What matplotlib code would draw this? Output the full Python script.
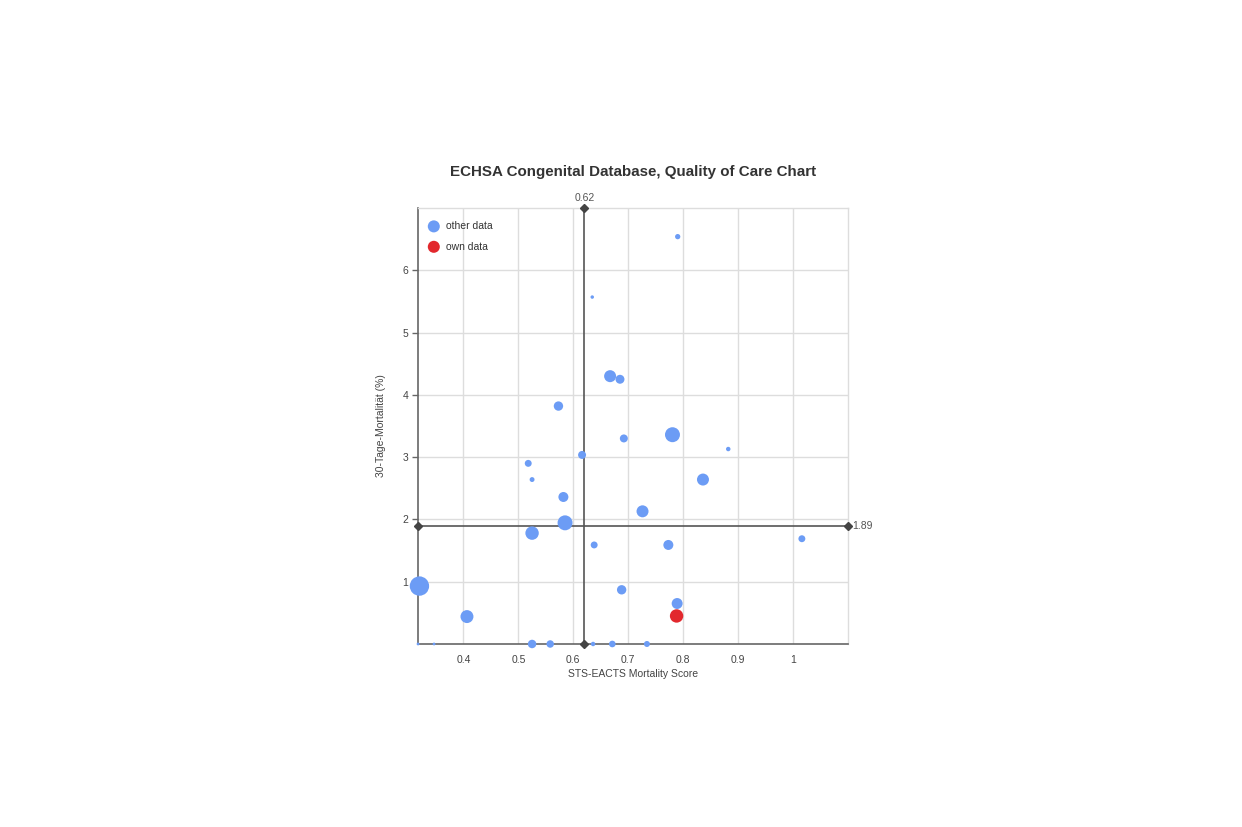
import numpy as np
import matplotlib.pyplot as plt

plt.rcParams['font.family'] = ['Liberation Sans', 'DejaVu Sans']

# other clinics: mortality score, 30-day mortality, number of cases
other_score = [0.790, 0.6345, 0.667, 0.685, 0.573, 0.692, 0.7805, 0.882, 0.616, 0.518,
               0.525, 0.836, 0.582, 0.726, 0.585, 0.525, 0.638, 0.773, 1.016, 0.320,
               0.688, 0.789, 0.4065, 0.3175, 0.3466, 0.525, 0.558, 0.636, 0.671, 0.734]
other_mort = [6.54, 5.57, 4.30, 4.25, 3.82, 3.30, 3.36, 3.13, 3.035, 2.90,
              2.64, 2.64, 2.36, 2.13, 1.945, 1.78, 1.59, 1.59, 1.69, 0.93,
              0.87, 0.65, 0.44, 0, 0, 0, 0, 0, 0, 0]
other_cases = [7, 3, 36, 20, 22, 16, 56, 5, 16, 12,
               6, 36, 25, 36, 56, 45, 12, 25, 12, 94,
               22, 30, 42, 2, 2, 18, 14, 5, 11, 9]

# own clinic
own_score = [0.788]
own_mort = [0.45]
own_cases = [45]

mean_score = 0.62
mean_mort = 1.89

x_ticks = [0.4, 0.5, 0.6, 0.7, 0.8, 0.9, 1.0]
x_labels = ['0.4', '0.5', '0.6', '0.7', '0.8', '0.9', '1']
y_ticks = [1, 2, 3, 4, 5, 6]
y_labels = ['1', '2', '3', '4', '5', '6']

fig = plt.figure(figsize=(12.42, 8.27), dpi=100)
ax = fig.add_axes([0.3366, 0.2213, 0.3462, 0.5272])

xmin, xmax = 0.3175, 1.1
ymin, ymax = 0, 7
ax.set_xlim(xmin, xmax)
ax.set_ylim(ymin, ymax)

ax.set_xticks(x_ticks)
ax.set_xticklabels(x_labels)
ax.set_yticks(y_ticks)
ax.set_yticklabels(y_labels)
ax.grid(True, color='#dddddd', linewidth=1)
ax.set_axisbelow(True)

for s in ['top', 'right']:
    ax.spines[s].set_color('#dddddd')
    ax.spines[s].set_linewidth(1)
for s in ['left', 'bottom']:
    ax.spines[s].set_color('#666666')
    ax.spines[s].set_linewidth(1.2)
ax.tick_params(axis='x', length=0, pad=8, labelsize=7.5, colors='#444444')
ax.tick_params(axis='y', length=4, width=1, color='#666666', pad=3, labelsize=7.5, labelcolor='#444444')

# mean lines
line_col = '#555555'
ax.plot([mean_score, mean_score], [ymin, ymax], color=line_col, lw=1.2, zorder=2, clip_on=False)
ax.plot([mean_score, mean_score], [ymin, ymax], ls='none', marker='D', ms=4.5,
        color='#444444', zorder=5, clip_on=False)
ax.plot([xmin, xmax], [mean_mort, mean_mort], color=line_col, lw=1.2, zorder=2, clip_on=False)
ax.plot([xmin, xmax], [mean_mort, mean_mort], ls='none', marker='D', ms=4.5,
        color='#444444', zorder=5, clip_on=False)
ax.annotate(f'{mean_score:.2f}', (mean_score, ymax), xytext=(0, 3.5), textcoords='offset points',
            ha='center', va='bottom', fontsize=7.5, color='#555555')
ax.annotate(f'{mean_mort:.2f}', (xmax, mean_mort), xytext=(3, 0), textcoords='offset points',
            ha='left', va='center', fontsize=7.5, color='#555555')

k = 2.07
ax.scatter(other_score, other_mort, s=np.array(other_cases) * k, color='#6c9cf5',
           edgecolors='none', zorder=4, clip_on=False, label='other data')
ax.scatter(own_score, own_mort, s=np.array(own_cases) * k, color='#e2282d',
           edgecolors='none', zorder=4, clip_on=False, label='own data')

leg = ax.legend(loc='upper left', bbox_to_anchor=(-0.007, 0.989), frameon=False, fontsize=7.5,
                handletextpad=0.2, borderaxespad=0.5, labelspacing=1.0,
                borderpad=0.3)
for h in leg.legend_handles:
    h.set_sizes([75])
for t in leg.get_texts():
    t.set_color('#333333')

ax.set_xlabel('STS-EACTS Mortality Score', fontsize=7.5, color='#444444', labelpad=3)
ax.set_ylabel('30-Tage-Mortalität (%)', fontsize=7.5, color='#444444', labelpad=12)
ax.set_title('ECHSA Congenital Database, Quality of Care Chart', fontsize=10.9,
             fontweight='bold', color='#333333', pad=23)

fig.savefig('out.png', dpi=100)
